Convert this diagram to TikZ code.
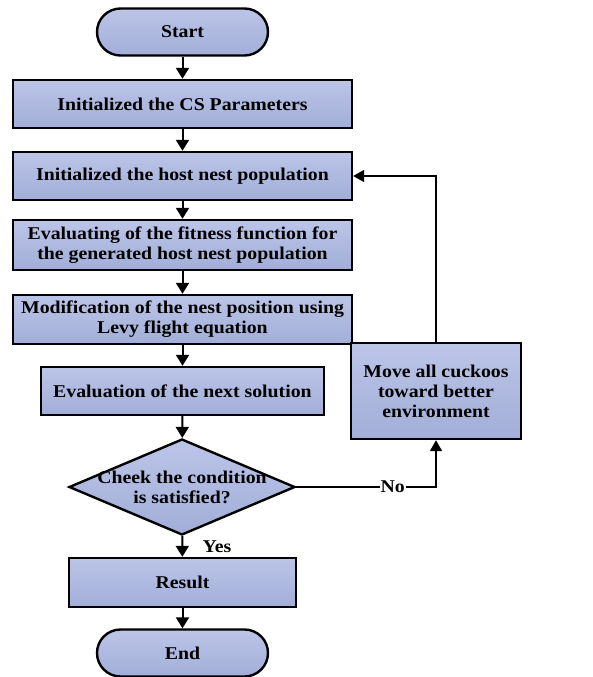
\documentclass[tikz,border=0pt]{standalone}
\usepackage{fontspec}
\setmainfont[FakeStretch=1.1]{Liberation Serif}
\usetikzlibrary{shapes.geometric,arrows.meta}
\definecolor{boxtop}{HTML}{BCC5E8}
\definecolor{boxbot}{HTML}{A2AED8}
\begin{document}
\begin{tikzpicture}[x=1pt,y=-1pt,
  lbl/.style={font=\bfseries\fontsize{18}{20}\selectfont},
  base/.style={lbl,draw=black,line width=2.4pt,top color=boxtop,bottom color=boxbot,
    align=center,inner sep=0pt},
  procbox/.style={base,rectangle},
  termbox/.style={base,rectangle,rounded corners=23.5pt},
  decbox/.style={base,diamond},
  flow/.style={line width=2pt,-{Triangle[width=13pt,length=11pt]}},
  thin flow/.style={line width=1.6pt,-{Triangle[width=12pt,length=11pt]}}]
\useasboundingbox (0,0) rectangle (592,677);

\node[termbox,minimum width=171pt,minimum height=47pt] (start) at (182.5,32) {Start};
\node[procbox,minimum width=339pt,minimum height=48pt] (init) at (182.5,104) {Initialized the CS Parameters};
\node[procbox,minimum width=339pt,minimum height=48pt] (pop) at (182.5,176) {Initialized the host nest population};
\node[procbox,minimum width=339pt,minimum height=50pt] (fit) at (182.5,245) {Evaluating of the fitness function for\\the generated host nest population};
\node[procbox,minimum width=339pt,minimum height=49pt] (levy) at (182.5,319.5) {Modification of the nest position using\\Levy flight equation};
\node[procbox,minimum width=283pt,minimum height=48pt] (eval) at (182.5,391) {Evaluation of the next solution};
\node[procbox,minimum width=170pt,minimum height=96pt] (move) at (436,391) {Move all cuckoos\\toward better\\environment};
\node[decbox,minimum width=226pt,minimum height=96pt] (check) at (182,487) {};
\node[lbl,align=center] (checktxt) at (182,487) {Cheek the condition\\is satisfied?};
\node[procbox,minimum width=227pt,minimum height=49pt] (result) at (182.5,582.5) {Result};
\node[termbox,minimum width=171pt,minimum height=47pt] (end) at (182.5,653) {End};

\draw[flow] (start) -- (init);
\draw[flow] (init) -- (pop);
\draw[flow] (pop) -- (fit);
\draw[flow] (fit) -- (levy);
\draw[flow] (levy) -- (eval);
\draw[flow] (eval) -- (check);
\draw[flow] (check) -- node[lbl,right=16pt] {Yes} (result);
\draw[flow] (result) -- (end);
\draw[thin flow] (check.east) -| node[lbl,pos=0.345,fill=white,inner sep=1pt] {No} (move.south);
\draw[thin flow] (move.north) |- (pop.east);
\end{tikzpicture}
\end{document}
